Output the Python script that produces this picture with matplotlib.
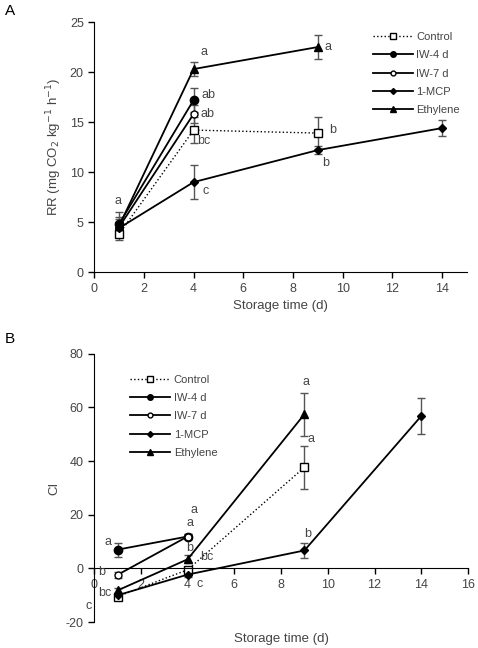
import numpy as np
import matplotlib.pyplot as plt
from matplotlib.lines import Line2D

plt.rcParams['font.family'] = ['Liberation Sans Narrow', 'Liberation Sans', 'DejaVu Sans']
plt.rcParams['axes.unicode_minus'] = False

# Panel A: respiration rate
names = ['Control', 'IW-4 d', 'IW-7 d', '1-MCP', 'Ethylene']
rr_x = {
    'Control': [1, 4, 9],
    'IW-4 d': [1, 4],
    'IW-7 d': [1, 4],
    '1-MCP': [1, 4, 9, 14],
    'Ethylene': [1, 4, 9],
}
rr_y = {
    'Control': [3.8, 14.2, 13.9],
    'IW-4 d': [4.8, 17.2],
    'IW-7 d': [4.5, 15.8],
    '1-MCP': [4.4, 9.0, 12.2, 14.4],
    'Ethylene': [4.6, 20.3, 22.5],
}
rr_err = {
    'Control': [0.6, 1.3, 1.6],
    'IW-4 d': [1.2, 1.2],
    'IW-7 d': [0.8, 0.9],
    '1-MCP': [0.6, 1.7, 0.4, 0.8],
    'Ethylene': [0.9, 0.7, 1.2],
}
rr_letters = [(0.97, 7.1, 'a'), (4.4, 22.0, 'a'), (9.4, 22.5, 'a'), (4.6, 17.7, 'ab'),
              (4.55, 15.8, 'ab'), (4.4, 13.1, 'bc'), (4.5, 8.1, 'c'),
              (9.6, 14.2, 'b'), (9.3, 10.9, 'b')]

# Panel B: chilling index
ci_x = {
    'Control': [1, 4, 9],
    'IW-4 d': [1, 4],
    'IW-7 d': [1, 4],
    '1-MCP': [1, 4, 9, 14],
    'Ethylene': [1, 4, 9],
}
ci_y = {
    'Control': [-10.5, -0.5, 37.7],
    'IW-4 d': [7.0, 11.9],
    'IW-7 d': [-2.4, 11.9],
    '1-MCP': [-10.0, -2.3, 6.7, 56.8],
    'Ethylene': [-8.2, 3.4, 57.5],
}
ci_err = {
    'Control': [1.0, 1.0, 8.0],
    'IW-4 d': [2.6, 1.0],
    'IW-7 d': [1.0, 1.0],
    '1-MCP': [1.0, 1.0, 2.8, 6.7],
    'Ethylene': [1.0, 1.5, 8.0],
}
ci_letters = [(0.58, 10.0, 'a'), (0.3, -1.5, 'b'), (0.47, -9.2, 'bc'), (-0.23, -14.0, 'c'),
              (4.28, 21.6, 'a'), (4.1, 16.9, 'a'), (4.07, 7.5, 'b'), (4.8, 4.1, 'bc'),
              (4.5, -5.7, 'c'), (9.06, 69.5, 'a'), (9.3, 48.4, 'a'), (9.13, 12.8, 'b')]

styles = {
    'Control': dict(ls=':', marker='s', mfc='white', ms=5.5, lw=1.0),
    'IW-4 d': dict(ls='-', marker='o', mfc='black', ms=6, lw=1.3),
    'IW-7 d': dict(ls='-', marker='o', mfc='white', ms=5, lw=1.3),
    '1-MCP': dict(ls='-', marker='D', mfc='black', ms=4.5, lw=1.3),
    'Ethylene': dict(ls='-', marker='^', mfc='black', ms=6, lw=1.3),
}
leg_ms = {'Control': 4, 'IW-4 d': 4, 'IW-7 d': 3.5, '1-MCP': 3, 'Ethylene': 4}
txt = '#444444'

fig = plt.figure(figsize=(4.78, 6.48), dpi=100)
axA = fig.add_axes([0.197, 0.580, 0.780, 0.386])
axB = fig.add_axes([0.197, 0.040, 0.782, 0.414])

for ax, xs, ys, es in [(axA, rr_x, rr_y, rr_err), (axB, ci_x, ci_y, ci_err)]:
    for n in names:
        st = styles[n]
        ax.errorbar(xs[n], ys[n], yerr=es[n], color='black', ecolor='#555555',
                    elinewidth=1.0, capsize=3, capthick=1.0, mec='black',
                    mew=1.0, **st)
    ax.spines['top'].set_visible(False)
    ax.spines['right'].set_visible(False)
    ax.tick_params(labelsize=9, colors=txt, length=4, width=1, color='black')

handles = []
for n in names:
    st = dict(styles[n])
    st['ms'] = leg_ms[n]
    handles.append(Line2D([], [], color='black', mec='black', mew=1.0, **st))

# panel A
axA.set_xlim(0, 15)
axA.set_ylim(0, 25)
axA.set_xticks(np.arange(0, 15, 2))
axA.set_yticks(np.arange(0, 26, 5))
axA.set_xlabel('Storage time (d)', fontsize=9.5, color=txt)
axA.set_ylabel('RR (mg CO$_2$ kg$^{-1}$ h$^{-1}$)', fontsize=9.5, color=txt)
for x, y, s in rr_letters:
    axA.text(x, y, s, fontsize=9, color=txt, ha='center', va='center')
leg = axA.legend(handles, names, loc='upper left', bbox_to_anchor=(0.72, 1.0), frameon=False,
                 fontsize=8, handlelength=3.6, labelspacing=0.75, handletextpad=0.3)
for t in leg.get_texts():
    t.set_color(txt)
axA.text(-0.24, 1.03, 'A', transform=axA.transAxes, fontsize=11, color='black')

# panel B
axB.set_xlim(0, 16)
axB.set_ylim(-20, 80)
axB.set_xticks(np.arange(0, 17, 2))
axB.set_yticks(np.arange(-20, 81, 20))
axB.spines['bottom'].set_position(('data', 0))
axB.set_xlabel('Storage time (d)', fontsize=9.5, color=txt)
axB.xaxis.set_label_coords(0.5, -0.04)
axB.set_ylabel('CI', fontsize=9.5, color=txt)
for x, y, s in ci_letters:
    axB.text(x, y, s, fontsize=9, color=txt, ha='center', va='center')
leg = axB.legend(handles, names, loc='upper left', bbox_to_anchor=(0.07, 0.96), frameon=False,
                 fontsize=8, handlelength=3.6, labelspacing=0.75, handletextpad=0.3)
for t in leg.get_texts():
    t.set_color(txt)
axB.text(-0.24, 1.04, 'B', transform=axB.transAxes, fontsize=11, color='black')

fig.savefig('out.png', dpi=100)
